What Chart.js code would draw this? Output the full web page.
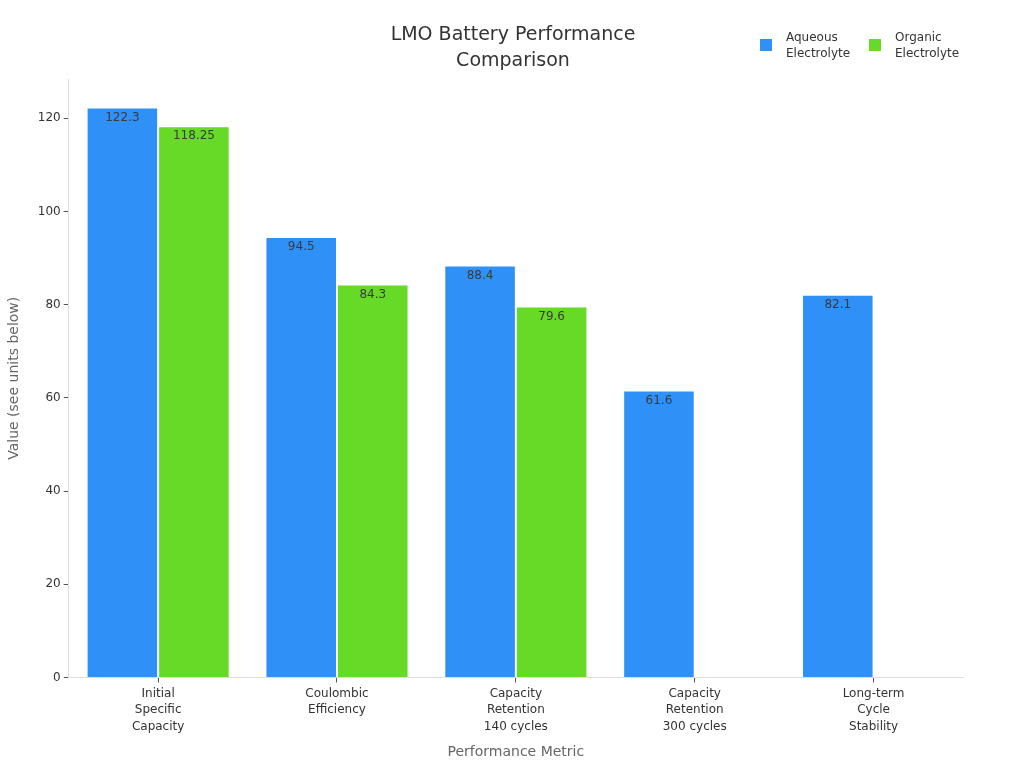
<!DOCTYPE html>
<html>
<head>
<meta charset="utf-8">
<script src="https://cdn.jsdelivr.net/npm/chart.js@4.4.1/dist/chart.umd.min.js"></script>
<style>
  html, body { margin: 0; padding: 0; background: #fff; }
  #wrap { width: 1024px; height: 768px; }
</style>
</head>
<body>
<div id="wrap"><canvas id="chart" width="1024" height="768"></canvas></div>
<script>
// LMO battery performance chart

const categories = [
    ['Initial', 'Specific', 'Capacity'],
    ['Coulombic', 'Efficiency'],
    ['Capacity', 'Retention', '140 cycles'],
    ['Capacity', 'Retention', '300 cycles'],
    ['Long-term', 'Cycle', 'Stability']
];
const aqueousValues = [122.3, 94.5, 88.4, 61.6, 82.1];
const organicValues = [118.25, 84.3, 79.6, null, null];
const seriesLabels = [['Aqueous', 'Electrolyte'], ['Organic', 'Electrolyte']];
const yTicks = [0, 20, 40, 60, 80, 100, 120];

const FONT = "'DejaVu Sans', sans-serif";
const BLUE = '#2f91f8';
const GREEN = '#66da26';

// value labels just inside the top of each bar
const valueLabels = {
    id: 'valueLabels',
    afterDatasetsDraw(chart) {
        const ctx = chart.ctx;
        ctx.save();
        ctx.font = '12px ' + FONT;
        ctx.fillStyle = '#3a3a3a';
        ctx.textAlign = 'center';
        ctx.textBaseline = 'top';
        chart.data.datasets.forEach((ds, i) => {
            const meta = chart.getDatasetMeta(i);
            meta.data.forEach((bar, j) => {
                const v = ds.data[j];
                if (v === null || v === undefined) return;
                ctx.fillText(String(v), bar.x, bar.y + 4);
            });
        });
        ctx.restore();
    }
};

// legend at top right with two-line labels
const sideLegend = {
    id: 'sideLegend',
    afterDraw(chart) {
        const ctx = chart.ctx;
        ctx.save();
        ctx.font = '12px ' + FONT;
        ctx.textBaseline = 'middle';
        ctx.textAlign = 'left';
        const xs = [760, 869];
        chart.data.datasets.forEach((ds, i) => {
            const x = xs[i];
            ctx.fillStyle = ds.backgroundColor;
            ctx.fillRect(x, 39, 12, 12);
            ctx.fillStyle = '#333';
            seriesLabels[i].forEach((t, k) => ctx.fillText(t, x + 26, 38 + k * 16));
        });
        ctx.restore();
    }
};

new Chart(document.getElementById('chart').getContext('2d'), {
    type: 'bar',
    data: {
        labels: categories,
        datasets: [
            {
                label: 'Aqueous Electrolyte',
                data: aqueousValues,
                backgroundColor: BLUE,
                borderColor: 'rgba(255,255,255,0.6)',
                borderWidth: 1,
                categoryPercentage: 0.8,
                barPercentage: 1.0
            },
            {
                label: 'Organic Electrolyte',
                data: organicValues,
                backgroundColor: GREEN,
                borderColor: 'rgba(255,255,255,0.6)',
                borderWidth: 1,
                categoryPercentage: 0.8,
                barPercentage: 1.0
            }
        ]
    },
    options: {
        responsive: false,
        animation: false,
        layout: { padding: { left: 2, right: 0, top: 10, bottom: 3 } },
        plugins: {
            legend: { display: false },
            tooltip: { enabled: false },
            title: {
                display: true,
                text: ['LMO Battery Performance', 'Comparison'],
                color: '#333',
                font: { family: FONT, size: 19, weight: 'normal', lineHeight: 1.37 },
                padding: { top: 12, bottom: 5 }
            }
        },
        scales: {
            x: {
                grid: { display: true, drawOnChartArea: false, offset: false, tickLength: 5, color: '#555' },
                border: { color: '#ddd' },
                ticks: { color: '#333', font: { family: FONT, size: 12, lineHeight: 1.38 }, padding: 3, maxRotation: 0 },
                title: {
                    display: true,
                    text: 'Performance Metric',
                    color: '#666',
                    font: { family: FONT, size: 14 },
                    padding: { top: 6 }
                }
            },
            y: {
                min: 0,
                max: 128.4,
                afterBuildTicks(axis) {
                    axis.ticks = yTicks.map(v => ({ value: v }));
                },
                grid: { display: true, drawOnChartArea: false, tickLength: 5, color: '#555' },
                border: { color: '#ddd' },
                ticks: { color: '#333', font: { family: FONT, size: 12 }, padding: 3 },
                title: {
                    display: true,
                    text: 'Value (see units below)',
                    color: '#666',
                    font: { family: FONT, size: 14 },
                    padding: { bottom: 12 }
                }
            },
            // empty right axis to leave room on the right without shifting the title
            yRight: {
                position: 'right',
                display: true,
                grid: { display: false },
                border: { display: false },
                ticks: { display: false },
                afterFit(axis) { axis.width = 61; }
            }
        }
    },
    plugins: [valueLabels, sideLegend]
});
</script>
</body>
</html>
